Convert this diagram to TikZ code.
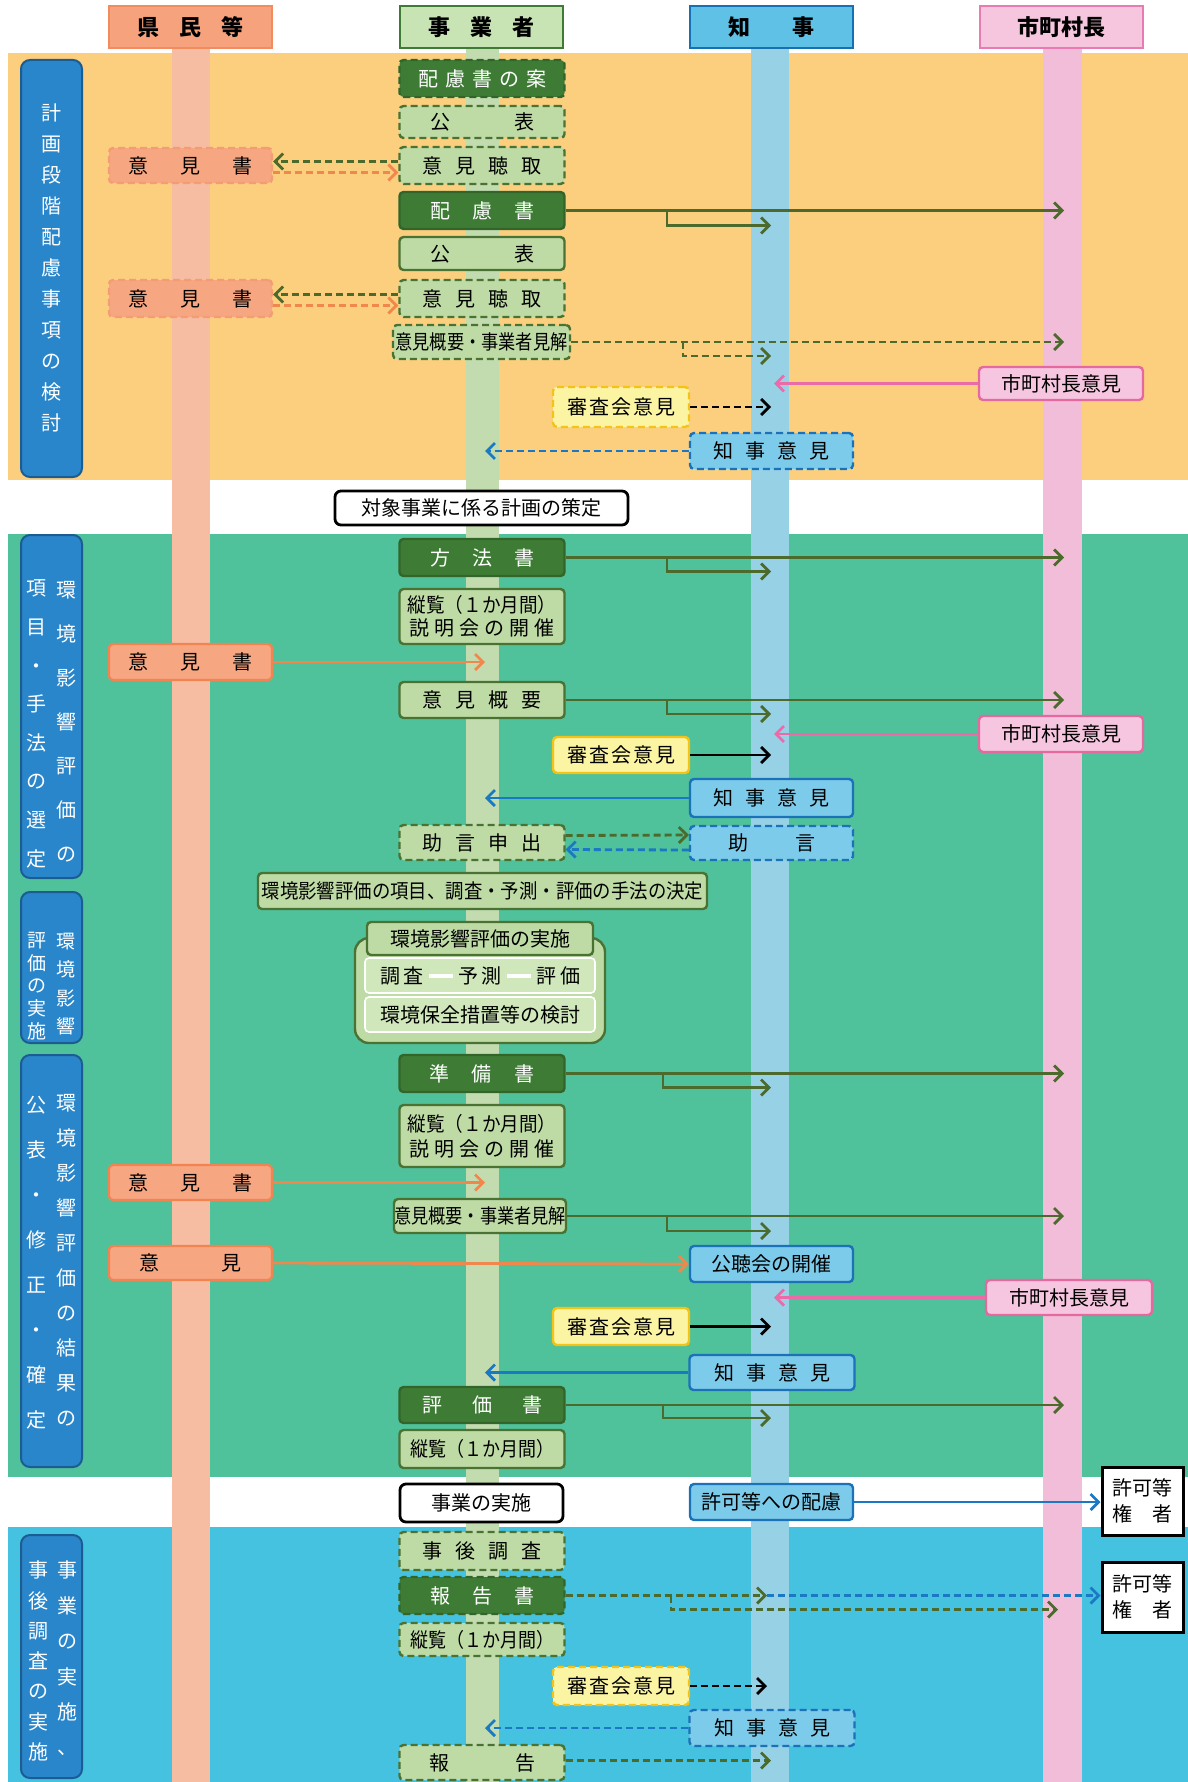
\documentclass[tikz,border=0pt]{standalone}
\usepackage{fontspec}
\setmainfont{Noto Sans CJK JP}
\usepackage{graphicx}
\usetikzlibrary{arrows.meta,calc}
\definecolor{orBG}{HTML}{FCCF7F}
\definecolor{grBG}{HTML}{4FC19B}
\definecolor{blBG}{HTML}{45C2E0}
\definecolor{labF}{HTML}{2A86CB}
\definecolor{labD}{HTML}{1B5C93}
\definecolor{dgF}{HTML}{3E7C35}
\definecolor{dgD}{HTML}{33652B}
\definecolor{lgF}{HTML}{BEDBA5}
\definecolor{lgD}{HTML}{4A7233}
\definecolor{inF}{HTML}{CFE7BA}
\definecolor{hgF}{HTML}{C9E4B4}
\definecolor{hsF}{HTML}{F6A37D}
\definecolor{hsD}{HTML}{F28C5E}
\definecolor{hkF}{HTML}{5FC1E6}
\definecolor{hkD}{HTML}{1571B4}
\definecolor{hpF}{HTML}{F6C6DF}
\definecolor{hpD}{HTML}{E77BB2}
\definecolor{salF}{HTML}{F7A682}
\definecolor{salD}{HTML}{F08552}
\definecolor{salL}{HTML}{F6BDA3}
\definecolor{kbF}{HTML}{7DCBEA}
\definecolor{kbD}{HTML}{1B72B8}
\definecolor{kbL}{HTML}{97D1E6}
\definecolor{pkF}{HTML}{F6C5DF}
\definecolor{pkD}{HTML}{E5689F}
\definecolor{pkL}{HTML}{F1BDD8}
\definecolor{jgL}{HTML}{C2DCB0}
\definecolor{ylF}{HTML}{FBF4A2}
\definecolor{ylD}{HTML}{F3C318}
\definecolor{arG}{HTML}{4C6A2C}
\definecolor{arP}{HTML}{EB6BA8}
\definecolor{arB}{HTML}{1B78C3}
\definecolor{arO}{HTML}{F0884E}
\newcommand{\gsp}[1]{\hspace{#1em}}
\begin{document}
\begin{tikzpicture}[x=1pt,y=-1pt,
  base/.style={rectangle, rounded corners=4pt, line width=2.4pt, inner sep=0pt, align=center, font=\fontsize{20}{24}\selectfont},
  dgbox/.style={base, fill=dgF, draw=dgD, text=white, minimum width=165pt, minimum height=37pt},
  lgbox/.style={base, fill=lgF, draw=lgD, text=black, minimum width=165pt, minimum height=37pt},
  dsh/.style={dash pattern=on 7pt off 4pt},
  salbox/.style={base, fill=salF, draw=salD, minimum width=163pt, minimum height=36pt},
  kbox/.style={base, fill=kbF, draw=kbD, minimum width=163pt, minimum height=36pt},
  pkbox/.style={base, fill=pkF, draw=pkD, minimum width=164pt, minimum height=34pt},
  ybox/.style={base, fill=ylF, draw=ylD, minimum width=136pt, minimum height=38pt},
  wbox/.style={base, fill=white, draw=black, line width=2.8pt, rounded corners=6pt},
  hdr/.style={rectangle, line width=2.5pt, minimum width=163pt, minimum height=42pt, inner sep=0pt, font=\fontsize{22}{24}\selectfont\bfseries},
  lab/.style={rectangle, rounded corners=9pt, fill=labF, draw=labD, line width=2pt, minimum width=61pt},
  vt/.style={text=white, align=center, inner sep=0pt},
  ar/.style={line width=2.8pt, -{Straight Barb[length=8pt,width=16pt]}},
  garr/.style={ar, draw=arG},
  parr/.style={ar, draw=arP},
  barr/.style={ar, draw=arB},
  karr/.style={ar, draw=black},
  oarr/.style={ar, draw=arO},
]
% background
\fill[white] (0,0) rectangle (1188,1782);
\useasboundingbox (0,0) rectangle (1188,1782);
\fill[orBG] (8,53) rectangle (1188,480);
\fill[grBG] (8,534) rectangle (1188,1477);
\fill[blBG] (8,1527) rectangle (1188,1782);
% lifelines
\fill[salL] (172,48) rectangle (210,1782);
\fill[jgL] (466,48) rectangle (499,1782);
\fill[kbL] (751,48) rectangle (789,1782);
\fill[pkL] (1043,48) rectangle (1082,1782);
% headers
\node[hdr, fill=hsF, draw=hsD] (hA) at (190.5,27) {県\gsp{0.9}民\gsp{0.9}等};
\node[hdr, fill=hgF, draw=dgF] (hB) at (481.5,27) {事\gsp{0.9}業\gsp{0.9}者};
\node[hdr, fill=hkF, draw=hkD] (hC) at (771.5,27) {知\gsp{1.9}事};
\node[hdr, fill=hpF, draw=hpD] (hD) at (1061.5,27) {市町村長};
% left labels
\node[lab, minimum height=417pt] (L1) at (51.5,268.5) {};
\node[vt, font=\fontsize{20}{31}\selectfont] (L1a) at (51.5,268) {計\\画\\段\\階\\配\\慮\\事\\項\\の\\検\\討};
\node[lab, minimum height=343pt] (L2) at (51.5,706.5) {};
\node[vt, font=\fontsize{20}{44}\selectfont] (L2a) at (66,722) {環\\境\\影\\響\\評\\価\\の};
\node[vt, font=\fontsize{20}{38.6}\selectfont] (L2b) at (37,724) {項\\目\\・\\手\\法\\の\\選\\定};
\node[lab, minimum height=151pt] (L3) at (51.5,967.5) {};
\node[vt, font=\fontsize{19}{28.5}\selectfont] (L3a) at (66,984) {環\\境\\影\\響};
\node[vt, font=\fontsize{19}{22.7}\selectfont] (L3b) at (37,986) {評\\価\\の\\実\\施};
\node[lab, minimum height=412pt] (L4) at (51.5,1261) {};
\node[vt, font=\fontsize{20}{35}\selectfont] (L4a) at (66,1260.5) {環\\境\\影\\響\\評\\価\\の\\結\\果\\の};
\node[vt, font=\fontsize{20}{45}\selectfont] (L4b) at (37,1262.5) {公\\表\\・\\修\\正\\・\\確\\定};
\node[lab, minimum height=243pt] (L5) at (51.5,1656.5) {};
\node[vt, font=\fontsize{20}{35.4}\selectfont] (L5a) at (67,1658.5) {事\\業\\の\\実\\施\\、};
\node[vt, font=\fontsize{20}{30.3}\selectfont] (L5b) at (38,1661) {事\\後\\調\\査\\の\\実\\施};
% tip coordinates
\coordinate (tK) at (771,0);
\coordinate (tKp) at (774,0);
\coordinate (tM) at (1064,0);
\coordinate (tJ) at (485,0);
\coordinate (bx) at (667,0);
\coordinate (bx2) at (671,0);
% ---------- section 1 ----------
\node[dgbox, dsh] (n1) at (482,78.5) {配\gsp{0.35}慮\gsp{0.35}書\gsp{0.35}の\gsp{0.35}案};
\node[lgbox, dsh, minimum height=32pt] (n2) at (482,122) {公\gsp{3.2}表};
\node[lgbox, dsh] (n3) at (482,165.5) {意\gsp{0.65}見\gsp{0.65}聴\gsp{0.65}取};
\node[dgbox] (n4) at (482,210.5) {配\gsp{1.1}慮\gsp{1.1}書};
\node[lgbox, minimum height=33pt] (n5) at (482,253.5) {公\gsp{3.2}表};
\node[lgbox, dsh] (n6) at (482,298.5) {意\gsp{0.65}見\gsp{0.65}聴\gsp{0.65}取};
\node[lgbox, dsh, minimum width=177pt, minimum height=34pt] (n7) at (481.5,342) {\scalebox{0.86}[1]{意見概要・事業者見解}};
\node[salbox, dsh, draw=salD!80, minimum height=35pt] (r1) at (190.5,165.5) {意\gsp{1.6}見\gsp{1.6}書};
\node[salbox, dsh, draw=salD!80, minimum height=37pt] (r2) at (190.5,298.5) {意\gsp{1.6}見\gsp{1.6}書};
\node[pkbox, minimum height=33pt] (m1) at (1061,383.5) {市町村長意見};
\node[ybox, dsh, minimum height=40pt] (s1) at (621,407) {審\gsp{0.1}査\gsp{0.1}会\gsp{0.1}意\gsp{0.1}見};
\node[kbox, dsh] (g1) at (771.5,451) {知\gsp{0.6}事\gsp{0.6}意\gsp{0.6}見};
\draw[garr, dsh] ($(n3.west)+(0,-4)$) -- ($(r1.east)+(0,-4)$);
\draw[oarr, dsh] ($(r1.east)+(0,7)$) -- ($(n3.west)+(0,7)$);
\draw[garr, dsh] ($(n6.west)+(0,-4)$) -- ($(r2.east)+(0,-4)$);
\draw[oarr, dsh] ($(r2.east)+(0,7)$) -- ($(n6.west)+(0,7)$);
\draw[garr] (n4.east) -- (n4.east -| tM);
\draw[garr] (n4.east -| bx) |- ($(n4.east -| tK)+(0,15)$);
\draw[garr, dsh] (n7.east) -- (n7.east -| tM);
\draw[garr, dsh] ($(n7.east -| bx)+(16,0)$) |- ($(n7.east -| tK)+(0,14)$);
\draw[parr] (m1.west) -- (m1.west -| tKp);
\draw[karr, dsh] (s1.east) -- (s1.east -| tK);
\draw[barr, dsh] (g1.west) -- (g1.west -| tJ);
% ---------- gap 1 ----------
\node[wbox, minimum width=293pt, minimum height=34pt] (t1) at (481.5,508) {対象事業に係る計画の策定};
% ---------- section 2 ----------
\node[dgbox] (n8) at (482,557.5) {方\gsp{1.1}法\gsp{1.1}書};
\node[lgbox, minimum height=55pt, font=\fontsize{20}{23}\selectfont] (n9) at (482,616.5) {\scalebox{0.93}[1]{縦覧（１か月間）}\\説\gsp{0.25}明\gsp{0.25}会\gsp{0.25}の\gsp{0.25}開\gsp{0.25}催};
\node[salbox] (r3) at (190.5,662) {意\gsp{1.6}見\gsp{1.6}書};
\node[lgbox, minimum height=36pt] (n10) at (482,700) {意\gsp{0.65}見\gsp{0.65}概\gsp{0.65}要};
\node[pkbox, minimum height=36pt] (m2) at (1061,734) {市町村長意見};
\node[ybox, minimum height=36pt] (s2) at (621,755) {審\gsp{0.1}査\gsp{0.1}会\gsp{0.1}意\gsp{0.1}見};
\node[kbox, minimum height=38pt] (g2) at (771.5,798) {知\gsp{0.6}事\gsp{0.6}意\gsp{0.6}見};
\node[lgbox, dsh, minimum height=35pt] (n11) at (482,842.5) {助\gsp{0.65}言\gsp{0.65}申\gsp{0.65}出};
\node[kbox, dsh, minimum height=34pt] (g3) at (771.5,843) {助\gsp{2.35}言};
\node[lgbox, minimum width=449pt, minimum height=36pt] (n12) at (482.5,891) {\scalebox{0.92}[1]{環境影響評価の項目、調査・予測・評価の手法の決定}};
\draw[oarr] (r3.east) -- (r3.east -| tJ);
\draw[garr] (n8.east) -- (n8.east -| tM);
\draw[garr] (n8.east -| bx) |- ($(n8.east -| tK)+(0,14)$);
\draw[garr] (n10.east) -- (n10.east -| tM);
\draw[garr] (n10.east -| bx) |- ($(n10.east -| tK)+(0,14)$);
\draw[parr] (m2.west) -- (m2.west -| tKp);
\draw[karr] (s2.east) -- (s2.east -| tK);
\draw[barr] (g2.west) -- (g2.west -| tJ);
\draw[garr, dsh] ($(n11.east)+(0,-7)$) -- ($(g3.west)+(0,-8)$);
\draw[barr, dsh] ($(g3.west)+(0,7)$) -- ($(n11.east)+(0,7)$);
% group: environmental assessment
\node[base, fill=lgF, draw=lgD, rounded corners=14pt, minimum width=250pt, minimum height=105pt] (grp) at (480,990.5) {};
\node[lgbox, minimum width=226pt, minimum height=33pt] (n13) at (480,938.5) {環境影響評価の実施};
\node[base, fill=inF, draw=white, line width=1.6pt, minimum width=230pt, minimum height=35pt] (n14) at (480,975.5) {調\gsp{0.2}査\hspace{5pt}\textcolor{white}{\rule[5.5pt]{24pt}{4pt}}\hspace{5pt}予\gsp{0.2}測\hspace{5pt}\textcolor{white}{\rule[5.5pt]{24pt}{4pt}}\hspace{5pt}評\gsp{0.2}価};
\node[base, fill=inF, draw=white, line width=1.6pt, minimum width=230pt, minimum height=35pt] (n15) at (480,1014.5) {環境保全措置等の検討};
% ---------- section 2c ----------
\node[dgbox] (n16) at (482,1073.5) {準\gsp{1.15}備\gsp{1.15}書};
\node[lgbox, minimum height=62pt, font=\fontsize{20}{25}\selectfont] (n17) at (482,1136) {\scalebox{0.93}[1]{縦覧（１か月間）}\\説\gsp{0.25}明\gsp{0.25}会\gsp{0.25}の\gsp{0.25}開\gsp{0.25}催};
\node[salbox, minimum height=35pt] (r4) at (190.5,1182.5) {意\gsp{1.6}見\gsp{1.6}書};
\node[lgbox, minimum width=172pt, minimum height=34pt] (n18) at (480,1216) {\scalebox{0.86}[1]{意見概要・事業者見解}};
\node[salbox, minimum height=34pt] (r5) at (190.5,1263) {意\gsp{3.1}見};
\node[kbox] (g4) at (771.5,1264) {公聴会の開催};
\node[pkbox, minimum width=166pt, minimum height=35pt] (m3) at (1069,1297.5) {市町村長意見};
\node[ybox, minimum height=37pt] (s3) at (621,1326.5) {審\gsp{0.1}査\gsp{0.1}会\gsp{0.1}意\gsp{0.1}見};
\node[kbox, minimum width=165pt, minimum height=35pt] (g5) at (772,1372.5) {知\gsp{0.6}事\gsp{0.6}意\gsp{0.6}見};
\node[dgbox, minimum height=36pt] (n19) at (482,1405) {評\gsp{1.5}価\gsp{1.5}書};
\node[lgbox, minimum height=38pt] (n20) at (482,1449) {\scalebox{0.9}[1]{縦覧（１か月間）}};
\draw[garr] (n16.east) -- (n16.east -| tM);
\draw[garr] ($(n16.east -| bx)+(-4,0)$) |- ($(n16.east -| tK)+(0,14)$);
\draw[oarr] (r4.east) -- (r4.east -| tJ);
\draw[garr] (n18.east) -- (n18.east -| tM);
\draw[garr] (n18.east -| bx) |- ($(n18.east -| tK)+(0,15)$);
\draw[oarr] (r5.east) -- (g4.west);
\draw[parr] (m3.west) -- (m3.west -| tKp);
\draw[karr] (s3.east) -- (s3.east -| tK);
\draw[barr] (g5.west) -- (g5.west -| tJ);
\draw[garr] (n19.east) -- (n19.east -| tM);
\draw[garr] ($(n19.east -| bx)+(-4,0)$) |- ($(n19.east -| tK)+(0,13)$);
% ---------- gap 2 ----------
\node[wbox, minimum width=163pt, minimum height=38pt] (t2) at (481.5,1503) {事業の実施};
\node[kbox] (g6) at (771.5,1502) {許可等への配慮};
\node[base, fill=white, draw=black, line width=3pt, rounded corners=0pt, minimum width=81pt, minimum height=68pt, font=\fontsize{20}{26}\selectfont] (k1) at (1142.5,1501) {許可等\\権\gsp{1}者};
\draw[barr] (g6.east) -- (g6.east -| k1.west);
% ---------- section 3 ----------
\node[lgbox, dsh, minimum height=38pt] (n21) at (482,1551) {事\gsp{0.65}後\gsp{0.65}調\gsp{0.65}査};
\node[dgbox, dsh] (n22) at (482,1595.5) {報\gsp{1.1}告\gsp{1.1}書};
\node[base, fill=white, draw=black, line width=3pt, rounded corners=0pt, minimum width=81pt, minimum height=70pt, font=\fontsize{20}{26}\selectfont] (k2) at (1142.5,1597) {許可等\\権\gsp{1}者};
\node[lgbox, dsh, minimum height=33pt] (n23) at (482,1639.5) {\scalebox{0.9}[1]{縦覧（１か月間）}};
\node[ybox, dsh] (s4) at (621,1686) {審\gsp{0.1}査\gsp{0.1}会\gsp{0.1}意\gsp{0.1}見};
\node[kbox, dsh, minimum width=165pt] (g7) at (772,1728) {知\gsp{0.6}事\gsp{0.6}意\gsp{0.6}見};
\node[lgbox, dsh, minimum height=35pt] (n24) at (482,1762.5) {報\gsp{3.3}告};
\coordinate (kmid) at (767,0);
\draw[garr, dsh] (n22.east) -- (n22.east -| kmid);
\draw[barr, dsh] (n22.east -| kmid) -- (n22.east -| k2.west);
\draw[garr, dsh] (n22.east -| bx2) |- ($(n22.east -| tM)+(-6,14)$);
\draw[karr, dsh] (s4.east) -- (s4.east -| kmid);
\draw[barr, dsh] (g7.west) -- (g7.west -| tJ);
\draw[garr, dsh] ($(n24.east)+(0,-2)$) -- ($(n24.east -| tK)+(0,-2)$);
\end{tikzpicture}
\end{document}
